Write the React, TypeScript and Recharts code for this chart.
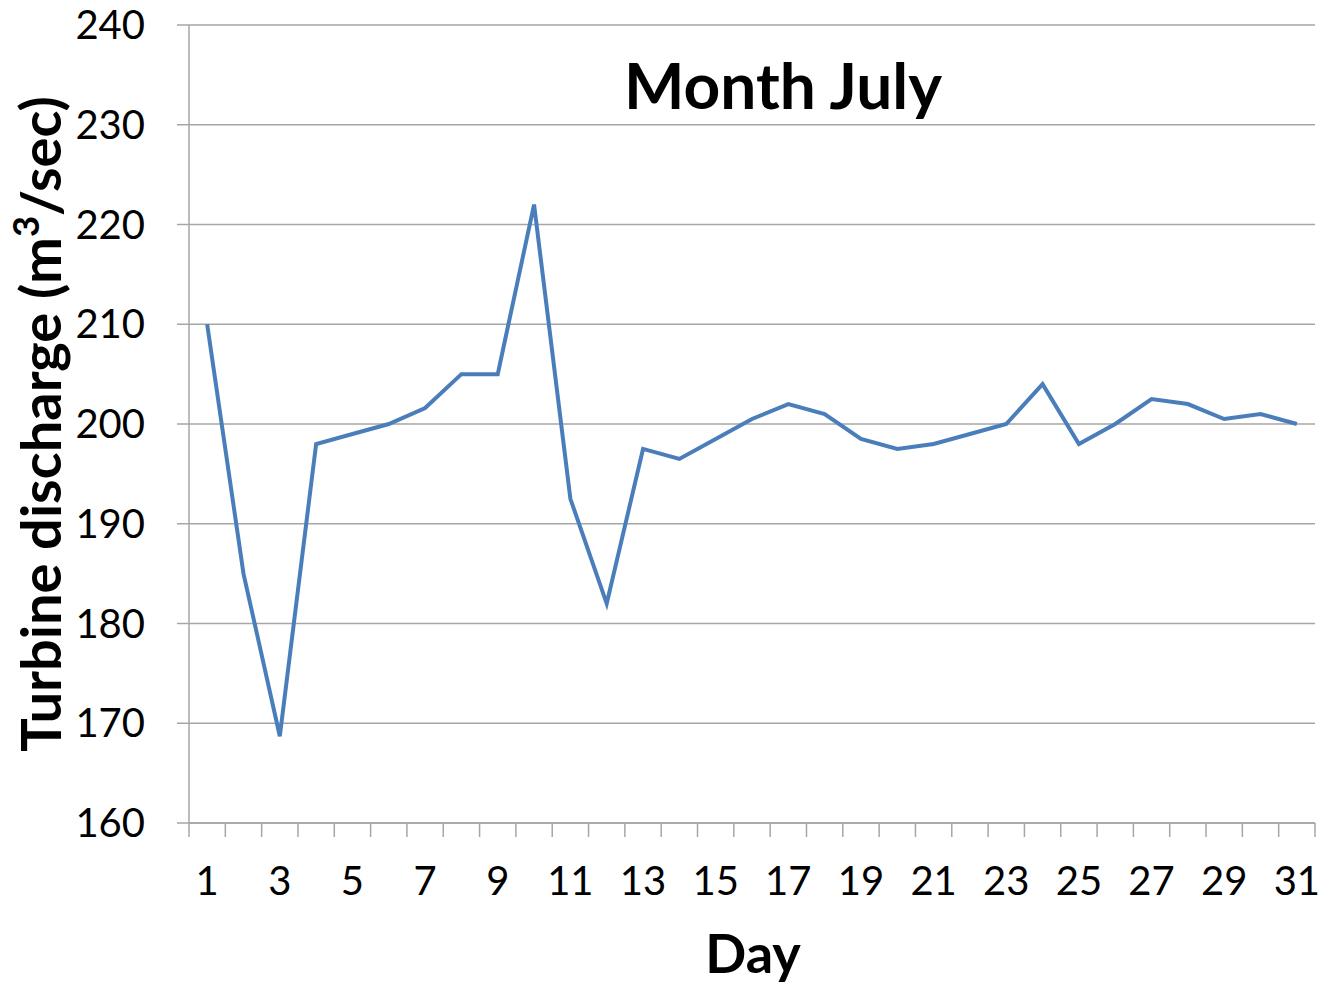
import React from "react";
import { LineChart, Line, XAxis, YAxis, CartesianGrid } from "recharts";

const days = [1,2,3,4,5,6,7,8,9,10,11,12,13,14,15,16,17,18,19,20,21,22,23,24,25,26,27,28,29,30,31];
const discharge = [210,185,168.7,198,199,200,201.6,205,205,222,192.5,182,197.5,196.5,198.5,200.5,202,201,198.5,197.5,198,199,200,204,198,200,202.5,202,200.5,201,200];
const dayLabels = [1,3,5,7,9,11,13,15,17,19,21,23,25,27,29,31];
const yTicks = [160,170,180,190,200,210,220,230,240];

const data = days.map((d, i) => ({ day: d, value: discharge[i] }));
const boundaries = days.map((d) => d - 0.5).concat([days[days.length - 1] + 0.5]);
const xTicks = [...boundaries, ...dayLabels].sort((a, b) => a - b);

const FONT = "Lato, 'Open Sans', sans-serif";
const GRID = "#a6a6a6";

const XTick = (props: any) => {
  const { x, y, payload } = props;
  const v = payload.value;
  if (v % 1 !== 0) {
    return <line x1={x} x2={x} y1={y} y2={y + 14} stroke={GRID} strokeWidth={1.5} />;
  }
  return (
    <text x={x} y={y + 72} textAnchor="middle" fontSize={40} fontFamily={FONT} fill="#000">
      {v}
    </text>
  );
};

export default function App() {
  return (
    <div style={{ position: "absolute", left: 0, top: 0, width: 1335, height: 983, background: "#fff" }}>
      <LineChart width={1335} height={983} data={data} margin={{ top: 25, right: 20, bottom: 0, left: 0 }}>
        <CartesianGrid vertical={false} stroke={GRID} strokeWidth={1.5} />
        <XAxis
          dataKey="day"
          type="number"
          domain={[0.5, 31.5]}
          ticks={xTicks}
          interval={0}
          tickLine={false}
          tickSize={0}
          tickMargin={0}
          height={160}
          axisLine={{ stroke: GRID, strokeWidth: 1.5 }}
          tick={<XTick />}
        />
        <YAxis
          domain={[160, 240]}
          ticks={yTicks}
          interval={0}
          width={189}
          tickSize={12}
          tickMargin={32}
          tickLine={{ stroke: GRID, strokeWidth: 1.5 }}
          axisLine={{ stroke: GRID, strokeWidth: 1.5 }}
          tick={{ fontSize: 40, fontFamily: FONT, fill: "#000" }}
        />
        <Line
          type="linear"
          dataKey="value"
          stroke="#4a7ebb"
          strokeWidth={4}
          dot={false}
          isAnimationActive={false}
        />
      </LineChart>
      <div
        style={{
          position: "absolute",
          left: 783,
          top: 84,
          transform: "translate(-50%, -50%)",
          fontFamily: FONT,
          fontWeight: 700,
          fontSize: 64,
          whiteSpace: "nowrap",
          color: "#000",
        }}
      >
        Month July
      </div>
      <div
        style={{
          position: "absolute",
          left: 753,
          top: 952,
          transform: "translate(-50%, -50%)",
          fontFamily: FONT,
          fontWeight: 700,
          fontSize: 54,
          whiteSpace: "nowrap",
          color: "#000",
        }}
      >
        Day
      </div>
      <div
        style={{
          position: "absolute",
          left: 40,
          top: 424,
          transform: "translate(-50%, -50%) rotate(-90deg)",
          fontFamily: FONT,
          fontWeight: 700,
          fontSize: 56,
          whiteSpace: "nowrap",
          color: "#000",
          lineHeight: 1,
        }}
      >
        Turbine discharge (m<sup style={{ fontSize: "0.65em", verticalAlign: "0.6em", lineHeight: 0 }}>3</sup>/sec)
      </div>
    </div>
  );
}
